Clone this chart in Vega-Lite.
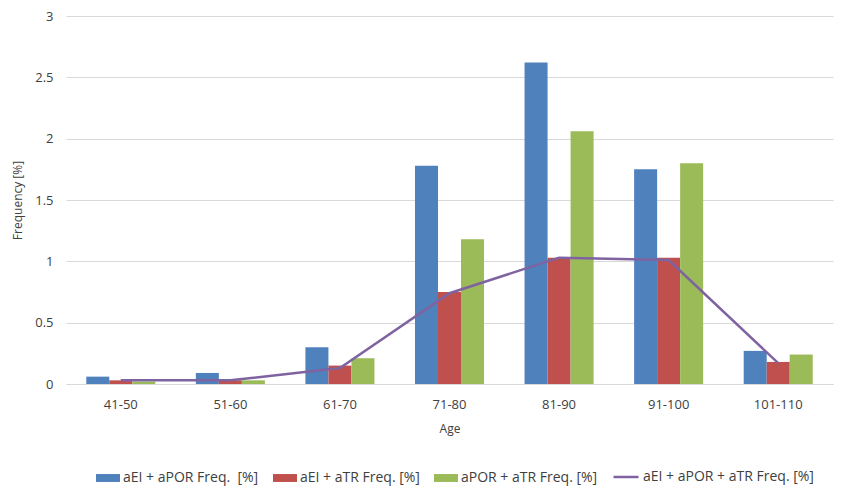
{
  "$schema": "https://vega.github.io/schema/vega-lite/v6.json",
  "autosize": {"type": "none"},
  "padding": {"left": 66, "top": 16, "right": 17, "bottom": 113},
  "width": 767,
  "height": 368,
  "background": "white",
  "config": {
    "font": "Open Sans",
    "view": {"stroke": null},
    "axis": {"labelColor": "#404040", "titleColor": "#404040", "labelFontSize": 13, "titleFontSize": 12, "titleFontWeight": "normal"},
    "legend": {"labelColor": "#404040", "labelFontSize": 14, "labelLimit": 400}
  },
  "datasets": {
    "bars": [
      {"age": "41-50", "series": "aEI + aPOR Freq.\u00a0 [%]", "freq": 0.06},
      {"age": "41-50", "series": "aEI + aTR Freq. [%]", "freq": 0.03},
      {"age": "41-50", "series": "aPOR + aTR Freq. [%]", "freq": 0.02},
      {"age": "51-60", "series": "aEI + aPOR Freq.\u00a0 [%]", "freq": 0.09},
      {"age": "51-60", "series": "aEI + aTR Freq. [%]", "freq": 0.03},
      {"age": "51-60", "series": "aPOR + aTR Freq. [%]", "freq": 0.03},
      {"age": "61-70", "series": "aEI + aPOR Freq.\u00a0 [%]", "freq": 0.30},
      {"age": "61-70", "series": "aEI + aTR Freq. [%]", "freq": 0.15},
      {"age": "61-70", "series": "aPOR + aTR Freq. [%]", "freq": 0.21},
      {"age": "71-80", "series": "aEI + aPOR Freq.\u00a0 [%]", "freq": 1.78},
      {"age": "71-80", "series": "aEI + aTR Freq. [%]", "freq": 0.75},
      {"age": "71-80", "series": "aPOR + aTR Freq. [%]", "freq": 1.18},
      {"age": "81-90", "series": "aEI + aPOR Freq.\u00a0 [%]", "freq": 2.62},
      {"age": "81-90", "series": "aEI + aTR Freq. [%]", "freq": 1.03},
      {"age": "81-90", "series": "aPOR + aTR Freq. [%]", "freq": 2.06},
      {"age": "91-100", "series": "aEI + aPOR Freq.\u00a0 [%]", "freq": 1.75},
      {"age": "91-100", "series": "aEI + aTR Freq. [%]", "freq": 1.03},
      {"age": "91-100", "series": "aPOR + aTR Freq. [%]", "freq": 1.80},
      {"age": "101-110", "series": "aEI + aPOR Freq.\u00a0 [%]", "freq": 0.27},
      {"age": "101-110", "series": "aEI + aTR Freq. [%]", "freq": 0.18},
      {"age": "101-110", "series": "aPOR + aTR Freq. [%]", "freq": 0.24}
    ],
    "line": [
      {"age": "41-50", "series": "aEI + aPOR + aTR Freq. [%]", "freq": 0.03},
      {"age": "51-60", "series": "aEI + aPOR + aTR Freq. [%]", "freq": 0.03},
      {"age": "61-70", "series": "aEI + aPOR + aTR Freq. [%]", "freq": 0.13},
      {"age": "71-80", "series": "aEI + aPOR + aTR Freq. [%]", "freq": 0.74},
      {"age": "81-90", "series": "aEI + aPOR + aTR Freq. [%]", "freq": 1.03},
      {"age": "91-100", "series": "aEI + aPOR + aTR Freq. [%]", "freq": 1.01},
      {"age": "101-110", "series": "aEI + aPOR + aTR Freq. [%]", "freq": 0.17}
    ]
  },
  "encoding": {
    "x": {
      "field": "age", "type": "nominal", "sort": null, "title": "Age",
      "scale": {"paddingInner": 0.37, "paddingOuter": 0.185},
      "axis": {"labelAngle": 0, "ticks": false, "domain": true, "domainColor": "#d9d9d9", "labelPadding": 14, "titlePadding": 12}
    },
    "y": {
      "field": "freq", "type": "quantitative", "title": "Frequency [%]",
      "scale": {"domain": [0, 3], "nice": false},
      "axis": {"values": [0, 0.5, 1, 1.5, 2, 2.5, 3], "format": "~g", "domain": false, "ticks": false, "gridColor": "#d9d9d9", "labelPadding": 13, "titlePadding": 10}
    }
  },
  "layer": [
    {
      "data": {"name": "bars"},
      "mark": {"type": "bar"},
      "encoding": {
        "xOffset": {"field": "series", "type": "nominal", "scale": {"domain": ["aEI + aPOR Freq.\u00a0 [%]", "aEI + aTR Freq. [%]", "aPOR + aTR Freq. [%]"], "paddingInner": 0, "paddingOuter": 0}},
        "color": {
          "field": "series", "type": "nominal",
          "scale": {"domain": ["aEI + aPOR Freq.\u00a0 [%]", "aEI + aTR Freq. [%]", "aPOR + aTR Freq. [%]"], "range": ["#4F81BD", "#C0504D", "#9BBB59"]},
          "legend": {"title": null, "orient": "none", "direction": "horizontal", "legendX": 30, "legendY": 450, "symbolType": "M-1,-0.33H1V0.33H-1Z", "symbolSize": 576, "symbolStrokeWidth": 0, "columnPadding": 14, "labelOffset": 3}
        }
      }
    },
    {
      "data": {"name": "line"},
      "mark": {"type": "line", "strokeWidth": 2.5},
      "encoding": {
        "stroke": {
          "field": "series", "type": "nominal",
          "scale": {"range": ["#7F63A1"]},
          "legend": {"title": null, "orient": "none", "direction": "horizontal", "legendX": 546, "legendY": 447, "symbolType": "stroke", "symbolSize": 625, "symbolStrokeWidth": 2.5, "labelOffset": 3}
        }
      }
    }
  ]
}
